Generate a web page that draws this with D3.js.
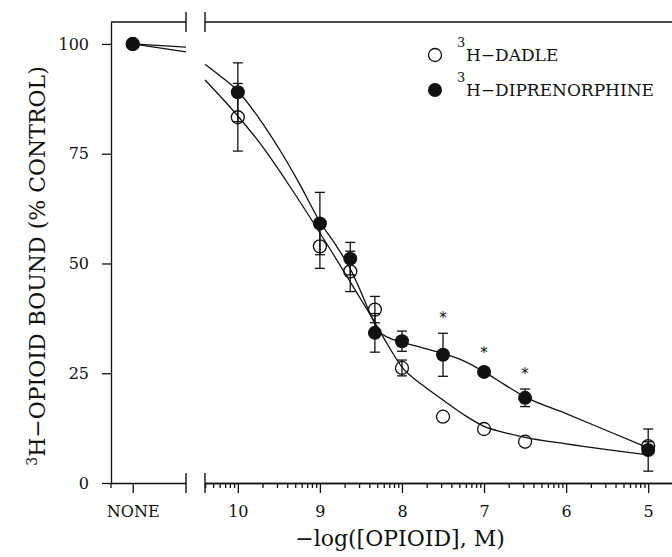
<!DOCTYPE html>
<html>
<head>
<meta charset="utf-8">
<script src="https://cdn.jsdelivr.net/npm/d3@7"></script>
<style>
  body { margin: 0; background: #fff; }
  svg { display: block; background: #fff; }
  text { font-family: "DejaVu Serif", serif; fill: #111; }
</style>
</head>
<body>
<svg id="body" width="672" height="557"></svg>
<script>
// -log[M] of each opioid concentration tested
let pLevels = [10, 9, 8.63, 8.33, 8, 7.5, 7, 6.5, 5];

// 3H-DADLE (open circles)
let dadleMean = [83.3, 53.9, 48.2, 39.5, 26.2, 15.1, 12.3, 9.4, 8.4];
let dadleErr  = [7.7, 5.0, 4.6, 3.0, 1.8, 0, 0, 0, 1.0];

// 3H-diprenorphine (filled circles)
let diprenMean = [89.0, 59.1, 51.1, 34.2, 32.3, 29.2, 25.3, 19.4, 7.5];
let diprenErr  = [6.7, 7.1, 3.7, 4.4, 2.3, 4.9, 1.0, 2.0, 4.8];

// control value (no opioid) and the short stubs running to the axis break
let noneValue = 100;
let stubEnd = [99.3, 98.2];

// fitted curves
let dadleFitP = [10.4, 10, 9.67, 9.4, 9.1, 8.85, 8.63, 8.5, 8.37, 8.23, 8, 7.75, 7.5, 7.25, 7, 6.75, 6.5, 6, 5.5, 5];
let dadleFitV = [91.8, 83.6, 75.9, 68.5, 59.9, 52.5, 45.8, 41.8, 37.8, 33.3, 26.4, 22.3, 18.9, 15.6, 12.9, 11.5, 10.4, 8.9, 7.6, 6.4];
let diprenFitP = [10.4, 10.2, 10, 9.75, 9.49, 9.25, 9, 8.8, 8.63, 8.5, 8.37, 8.27, 8.15, 8, 7.75, 7.5, 7.25, 7, 6.75, 6.5, 6, 5.5, 5];
let diprenFitV = [95.4, 92.5, 89.3, 83.3, 75.9, 68.2, 59.5, 54.0, 48.8, 43.5, 37.8, 34.4, 33.0, 32.1, 30.8, 29.5, 27.8, 25.3, 22.4, 19.6, 15.8, 11.9, 8.0];

// significance marks (*) above diprenorphine points
let starLevels = [7.5, 7, 6.5];

let yTicks = [0, 25, 50, 75, 100];
let xTicks = [10, 9, 8, 7, 6, 5];
let noneLabel = "NONE";
let legendLabels = ["H\u2212DADLE", "H\u2212DIPRENORPHINE"];

let svg = d3.select("#body");
let ink = "#111";

let toM = p => Math.pow(10, -p);

let yScale = d3.scaleLinear()
    .domain([0, 105])
    .range([483, 22]);

let xScale = d3.scaleLog()
    .domain([toM(10.4), toM(4.71)])
    .range([205, 672]);

// left stub holding the "NONE" control
let noneScale = d3.scaleLinear()
    .domain([0, 1])
    .range([111, 186]);
let nonePos = 0.29;

// ---- axes ----
let yAxis = d3.axisLeft(yScale)
    .tickValues(yTicks)
    .tickSize(9)
    .tickSizeOuter(0)
    .tickPadding(13);

svg.append("g")
    .attr("id", "yAxis")
    .attr("transform", "translate(111, 0)")
    .call(yAxis);

// y axis line pokes a little below the x axis
svg.append("line")
    .attr("x1", 111).attr("x2", 111)
    .attr("y1", yScale(0)).attr("y2", yScale(0) + 5)
    .attr("stroke", ink).attr("stroke-width", 1.3);

let isDecade = v => Math.abs(Math.log10(v) - Math.round(Math.log10(v))) < 1e-6;
let minorM = xScale.ticks().filter(v => !isDecade(v));

let xMinor = d3.axisBottom(xScale)
    .tickValues(minorM)
    .tickSize(5)
    .tickSizeOuter(0)
    .tickFormat("");

let xAxis = d3.axisBottom(xScale)
    .tickValues(xTicks.map(toM))
    .tickSize(10)
    .tickSizeOuter(0)
    .tickPadding(12.6)
    .tickFormat(v => Math.round(-Math.log10(v)));

svg.append("g")
    .attr("id", "xMinor")
    .attr("transform", "translate(0, 483)")
    .call(xMinor);

svg.append("g")
    .attr("id", "xAxis")
    .attr("transform", "translate(0, 483)")
    .call(xAxis);

let noneAxis = d3.axisBottom(noneScale)
    .tickValues([nonePos])
    .tickSize(10)
    .tickSizeOuter(0)
    .tickPadding(12.6)
    .tickFormat(() => noneLabel);

svg.append("g")
    .attr("id", "noneAxis")
    .attr("transform", "translate(0, 483)")
    .call(noneAxis);

svg.selectAll(".tick text")
    .style("font-size", "16px")
    .style("font-family", "'DejaVu Serif', serif")
    .attr("fill", ink);

svg.selectAll(".domain, .tick line")
    .attr("stroke", ink)
    .attr("stroke-width", 1.3);

// top frame, split by the break
let yTop = yScale(105);
svg.append("line")
    .attr("x1", noneScale(0)).attr("x2", noneScale(1))
    .attr("y1", yTop).attr("y2", yTop)
    .attr("stroke", ink).attr("stroke-width", 1.3);
svg.append("line")
    .attr("x1", xScale.range()[0]).attr("x2", xScale.range()[1])
    .attr("y1", yTop).attr("y2", yTop)
    .attr("stroke", ink).attr("stroke-width", 1.3);

// break marks at both ends of the gap, top and bottom
let breakX = [noneScale(1), xScale.range()[0]];
let breakY = [yTop, yScale(0)];
breakY.forEach(by => {
    svg.selectAll(null)
        .data(breakX)
        .enter()
        .append("line")
        .attr("x1", d => d).attr("x2", d => d)
        .attr("y1", by - 10).attr("y2", by + 10)
        .attr("stroke", ink)
        .attr("stroke-width", 1.4);
});

// ---- fitted curves ----
let fitLine = d3.line()
    .x(d => xScale(toM(d[0])))
    .y(d => yScale(d[1]))
    .curve(d3.curveMonotoneX);

let fits = [
    d3.zip(dadleFitP, dadleFitV),
    d3.zip(diprenFitP, diprenFitV)
];

svg.selectAll(".fit")
    .data(fits)
    .enter()
    .append("path")
    .attr("class", "fit")
    .attr("d", fitLine)
    .attr("fill", "none")
    .attr("stroke", ink)
    .attr("stroke-width", 1.3);

// stubs from control point to the break
svg.selectAll(".stub")
    .data(stubEnd)
    .enter()
    .append("line")
    .attr("class", "stub")
    .attr("x1", noneScale(nonePos))
    .attr("y1", yScale(noneValue))
    .attr("x2", noneScale(1))
    .attr("y2", d => yScale(d))
    .attr("stroke", ink)
    .attr("stroke-width", 1.3);

// ---- error bars ----
let dadle = pLevels.map((p, i) => ({ p: p, v: dadleMean[i], e: dadleErr[i] }));
let dipren = pLevels.map((p, i) => ({ p: p, v: diprenMean[i], e: diprenErr[i] }));

function errorBars(rows, cls) {
    let g = svg.selectAll("." + cls)
        .data(rows.filter(d => d.e > 0))
        .enter()
        .append("g")
        .attr("class", cls)
        .attr("transform", d => "translate(" + xScale(toM(d.p)) + ",0)")
        .attr("stroke", ink)
        .attr("stroke-width", 1.3);

    g.append("line")
        .attr("y1", d => yScale(d.v - d.e))
        .attr("y2", d => yScale(d.v + d.e));

    g.append("line")
        .attr("x1", -5).attr("x2", 5)
        .attr("y1", d => yScale(d.v + d.e))
        .attr("y2", d => yScale(d.v + d.e));

    g.append("line")
        .attr("x1", -5).attr("x2", 5)
        .attr("y1", d => yScale(d.v - d.e))
        .attr("y2", d => yScale(d.v - d.e));
}

errorBars(dadle, "errDadle");
errorBars(dipren, "errDipren");

// ---- points ----
svg.append("circle")
    .attr("cx", noneScale(nonePos))
    .attr("cy", yScale(noneValue))
    .attr("r", 6.5)
    .attr("fill", "none")
    .attr("stroke", ink)
    .attr("stroke-width", 1.3);

svg.selectAll(".dadle")
    .data(dadle)
    .enter()
    .append("circle")
    .attr("class", "dadle")
    .attr("cx", d => xScale(toM(d.p)))
    .attr("cy", d => yScale(d.v))
    .attr("r", 6.5)
    .attr("fill", "none")
    .attr("stroke", ink)
    .attr("stroke-width", 1.3);

svg.append("circle")
    .attr("cx", noneScale(nonePos))
    .attr("cy", yScale(noneValue))
    .attr("r", 7)
    .attr("fill", ink);

svg.selectAll(".dipren")
    .data(dipren)
    .enter()
    .append("circle")
    .attr("class", "dipren")
    .attr("cx", d => xScale(toM(d.p)))
    .attr("cy", d => yScale(d.v))
    .attr("r", 7)
    .attr("fill", ink);

// significance stars
svg.selectAll(".star")
    .data(dipren.filter(d => starLevels.includes(d.p)))
    .enter()
    .append("text")
    .attr("class", "star")
    .attr("x", d => xScale(toM(d.p)))
    .attr("y", d => yScale(d.v + d.e) - 10)
    .attr("text-anchor", "middle")
    .style("font-family", "'DejaVu Sans', sans-serif")
    .style("font-size", "15px")
    .text("*");

// ---- legend ----
let legend = svg.append("g")
    .attr("transform", "translate(435, 55)");

legendLabels.forEach((label, i) => {
    let row = legend.append("g")
        .attr("transform", "translate(0," + (i * 35) + ")");

    row.append("circle")
        .attr("r", i === 0 ? 6.5 : 7)
        .attr("fill", i === 0 ? "none" : ink)
        .attr("stroke", ink)
        .attr("stroke-width", i === 0 ? 1.3 : 0);

    row.append("text")
        .attr("x", 22)
        .attr("y", -8)
        .style("font-size", "13px")
        .text("3");

    row.append("text")
        .attr("x", 31)
        .attr("y", 6)
        .style("font-size", "17px")
        .text(label);
});

// ---- axis titles ----
svg.append("text")
    .attr("x", 400)
    .attr("y", 546)
    .attr("text-anchor", "middle")
    .style("font-size", "22px")
    .text("\u2212log([OPIOID], M)");

let yTitle = svg.append("text")
    .attr("transform", "translate(45, 266) rotate(-90)")
    .attr("text-anchor", "middle")
    .style("font-size", "22px");

yTitle.append("tspan")
    .attr("dy", -8)
    .style("font-size", "14px")
    .text("3");

yTitle.append("tspan")
    .attr("dy", 8)
    .text("H\u2212OPIOID BOUND (% CONTROL)");
</script>
</body>
</html>
